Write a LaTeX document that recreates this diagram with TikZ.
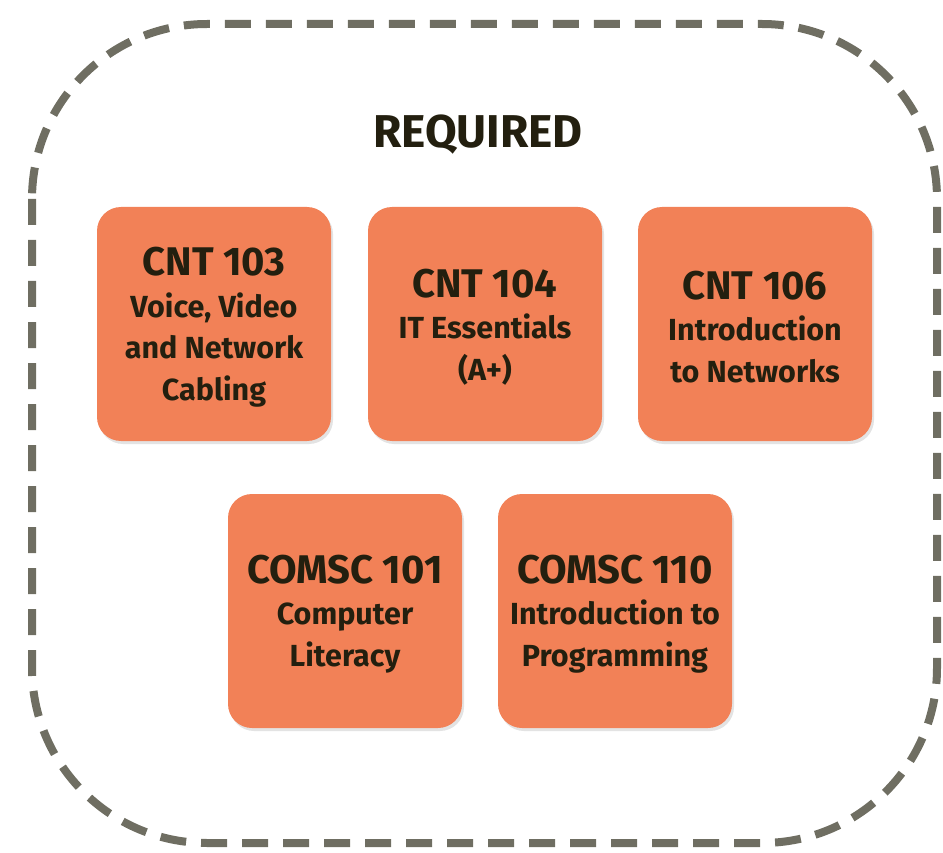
\documentclass[tikz,border=0pt]{standalone}
\usepackage{fontspec}
\setmainfont{Fira Sans}
\usetikzlibrary{shadows}
\definecolor{boxfill}{HTML}{F28157}
\definecolor{txt}{HTML}{231F0F}
\definecolor{dashc}{HTML}{6F6E62}
\tikzset{
  course/.style={draw=none, fill=boxfill, rounded corners=24pt, minimum width=234pt, minimum height=234pt,
    drop shadow={shadow xshift=2pt, shadow yshift=-3pt, opacity=0.18, fill=black!60}},
  coursetext/.style={align=center, text=txt, inner sep=0pt, font=\bfseries\fontsize{30.5}{41.5}\selectfont},
}
\newcommand{\ctitle}[1]{{\fontsize{40}{41.5}\selectfont #1}}
\begin{document}
\begin{tikzpicture}[x=1pt,y=-1pt]
\useasboundingbox (0,0) rectangle (943,853);
\draw[dashc, line width=8pt, dash pattern=on 26pt off 15pt, rounded corners=175pt] (32,24) rectangle (937,843);
\node[text=txt, font=\bfseries\fontsize{46}{46}\selectfont] (req) at (478,135) {REQUIRED};
\node[course] (c103) at (214,324) {};
\node[course] (c104) at (485,324) {};
\node[course] (c106) at (755,324) {};
\node[course] (m101) at (345,611) {};
\node[course] (m110) at (615,611) {};
\node[coursetext] (c103t) at ([yshift=-3pt]c103.center) {\ctitle{CNT 103}\\Voice, Video\\and Network\\Cabling};
\node[coursetext] (c104t) at ([yshift=-3pt]c104.center) {\ctitle{CNT 104}\\IT Essentials\\(A+)};
\node[coursetext] (c106t) at ([yshift=-3pt]c106.center) {\ctitle{CNT 106}\\Introduction\\to Networks};
\node[coursetext] (m101t) at ([yshift=-3pt]m101.center) {\ctitle{COMSC 101}\\Computer\\Literacy};
\node[coursetext] (m110t) at ([yshift=-3pt]m110.center) {\ctitle{COMSC 110}\\Introduction to\\Programming};
\end{tikzpicture}
\end{document}
